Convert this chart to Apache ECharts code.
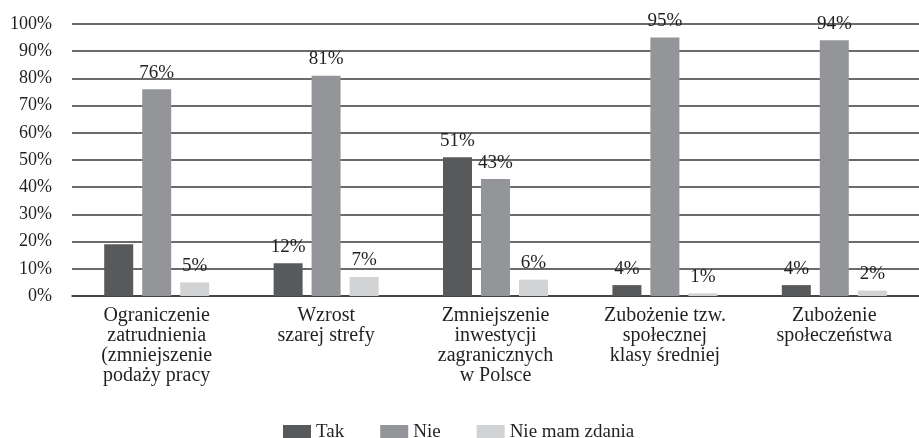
<!DOCTYPE html>
<html><head><meta charset="utf-8">
<script src="https://cdn.jsdelivr.net/npm/echarts@6/dist/echarts.min.js"></script>
<style>html,body{margin:0;padding:0;background:#fff}#c{width:919px;height:438px}</style>
</head><body><div id="c"></div>
<script>
const categories = [
  "Ograniczenie\nzatrudnienia\n(zmniejszenie\npodaży pracy",
  "Wzrost\nszarej strefy",
  "Zmniejszenie\ninwestycji\nzagranicznych\nw Polsce",
  "Zubożenie tzw.\nspołecznej\nklasy średniej",
  "Zubożenie\nspołeczeństwa"
];
const seriesNames = ["Tak", "Nie", "Nie mam zdania"];
const tak = [19, 12, 51, 4, 4];
const nie = [76, 81, 43, 95, 94];
const nieMamZdania = [5, 7, 6, 1, 2];
const hiddenTakLabels = [0]; // the first "Tak" value has no label in the source

const FONT = "Liberation Serif";
const colors = ["#58595b", "#939598", "#d1d3d4"];
const values = [tak, nie, nieMamZdania];

const chart = echarts.init(document.getElementById('c'));
chart.setOption({
  animation: false,
  textStyle: { fontFamily: FONT },
  grid: { left: 72, right: 0, top: 24, bottom: 142 },
  legend: {
    top: 418, left: 278,
    itemWidth: 28, itemHeight: 15, itemGap: 36,
    icon: 'rect',
    textStyle: { fontFamily: FONT, fontSize: 19, color: '#231f20' },
    data: seriesNames
  },
  xAxis: {
    type: 'category', data: categories,
    axisTick: { show: false },
    axisLine: { lineStyle: { color: '#3a3a3a', width: 1.5 } },
    axisLabel: { fontFamily: FONT, fontSize: 20, color: '#231f20', lineHeight: 20, margin: 10, interval: 0 }
  },
  yAxis: {
    type: 'value', min: 0, max: 100, interval: 10,
    axisLabel: { formatter: '{value}%', fontFamily: FONT, fontSize: 18, color: '#231f20', margin: 20 },
    splitLine: { lineStyle: { color: '#3a3a3a', width: 1.5 } },
    axisLine: { show: false }, axisTick: { show: false }
  },
  series: values.map((arr, si) => ({
    name: seriesNames[si], type: 'bar', barWidth: 29, barGap: '31%',
    itemStyle: { color: colors[si] },
    label: { show: true, position: 'top', distance: 7, formatter: '{c}%', fontFamily: FONT, fontSize: 19, color: '#231f20' },
    data: arr.map((v, i) => (si === 0 && hiddenTakLabels.includes(i)) ? { value: v, label: { show: false } } : v)
  }))
});
</script></body></html>
